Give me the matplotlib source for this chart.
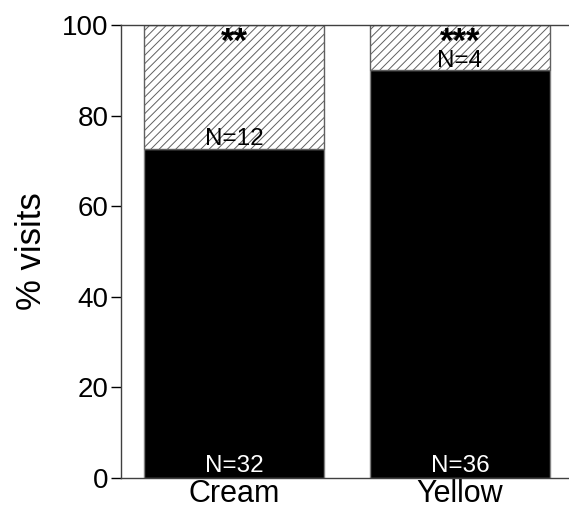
import matplotlib
matplotlib.use("Agg")
import matplotlib.pyplot as plt

plt.rcParams["font.family"] = ["Liberation Sans", "DejaVu Sans"]
plt.rcParams["hatch.linewidth"] = 0.7
plt.rcParams["hatch.color"] = "#303030"

categories = ["Cream", "Yellow"]
n_visits = [32, 36]
n_other = [12, 4]
stars = ["**", "***"]

totals = [a + b for a, b in zip(n_visits, n_other)]
pct_visits = [100 * a / t for a, t in zip(n_visits, totals)]
pct_other = [100 - p for p in pct_visits]

fig = plt.figure(figsize=(5.69, 5.09), dpi=100)
ax = fig.add_axes([121 / 569, 31 / 509, 452 / 569, 453 / 509])

x = list(range(len(categories)))
ax.bar(x, pct_visits, width=0.8, color="black", edgecolor="#808080", linewidth=1)
ax.bar(x, pct_other, width=0.8, bottom=pct_visits, color="white",
       edgecolor="#606060", linewidth=1, hatch="////")

for i in x:
    ax.text(i, 1.4, f"N={n_visits[i]}", color="white", ha="center", va="baseline",
            fontsize=17.5)
    ax.text(i, pct_visits[i] + 0.7, f"N={n_other[i]}", color="black", ha="center",
            va="baseline", fontsize=17.5)
    ax.text(i, 99.8, stars[i], color="black", ha="center", va="top", fontsize=25,
            fontweight="bold")

ax.set_xlim(-0.5, 1.5)
ax.set_ylim(0, 100)
ax.set_yticks([0, 20, 40, 60, 80, 100])
ax.set_xticks(x)
ax.set_xticklabels(categories)
ax.tick_params(axis="y", direction="out", length=7, width=1, labelsize=20, pad=2)
ax.tick_params(axis="x", length=0, labelsize=22, pad=1)
ax.set_ylabel("% visits", fontsize=25, labelpad=10)
for side in ["left", "bottom", "top", "right"]:
    ax.spines[side].set_color("#404040")
    ax.spines[side].set_linewidth(1)

fig.savefig("out.png", dpi=100)
